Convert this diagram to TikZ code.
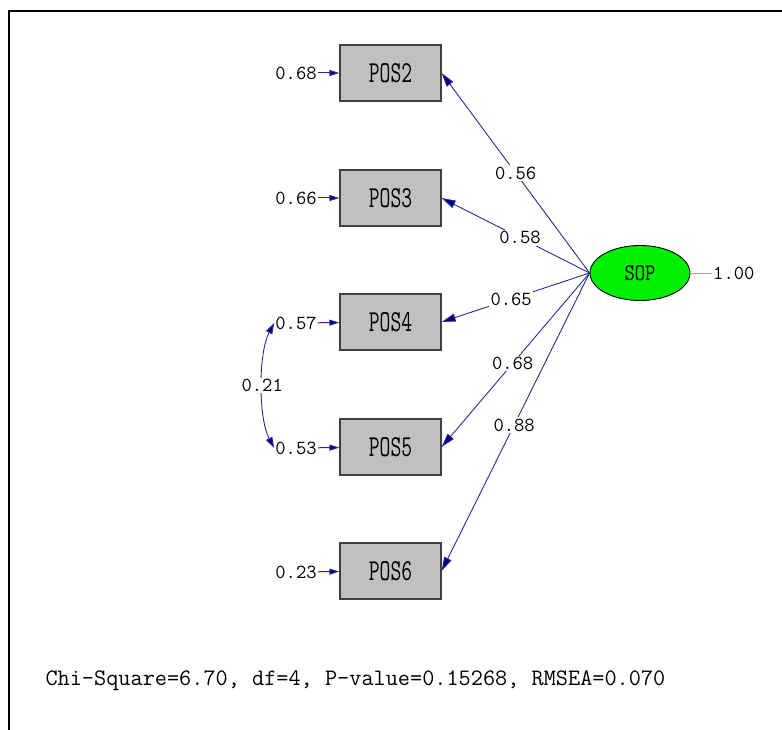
\documentclass[tikz,border=0pt]{standalone}
\usepackage{fontspec}
\usepackage{tikz}
\usetikzlibrary{arrows.meta,positioning,calc,shapes.geometric}

\newcommand{\tallbox}[2]{\scalebox{1}[#1]{#2}}

\begin{document}
\begin{tikzpicture}[
  x=1pt, y=-1pt,
  font=\ttfamily\fontsize{20}{21}\selectfont,
  obs/.style={draw=black!75, line width=1.3pt, fill=cBox, minimum width=101pt, minimum height=56pt, inner sep=0pt},
  lat/.style={draw=black, line width=0.9pt, fill=cLat, ellipse, minimum width=100pt, minimum height=55pt, inner sep=0pt},
  arr/.style={line width=0.9pt, draw=cLine, -{Triangle[length=14pt,width=8pt,fill=cHead]}},
  earr/.style={draw=cLine, line width=1pt, -{Triangle[length=10pt,width=6pt,fill=cHead]}},
  lab/.style={fill=white, text=black, inner sep=1.5pt},
  err/.style={inner sep=1pt},
]
\definecolor{cBox}{HTML}{C0C0C0}
\definecolor{cLat}{HTML}{00F000}
\definecolor{cLine}{HTML}{2A2A96}
\definecolor{cHead}{HTML}{00007A}

\useasboundingbox[fill=white] (0,0) rectangle (782,730);
\draw[line width=2pt] (782,11) -- (9,11) -- (9,730);

\node[obs] (p2) at (390.5,73) {\fontsize{21}{22}\selectfont\tallbox{1.45}{POS2}};
\node[obs] (p3) at (390.5,198) {\fontsize{21}{22}\selectfont\tallbox{1.45}{POS3}};
\node[obs] (p4) at (390.5,322) {\fontsize{21}{22}\selectfont\tallbox{1.45}{POS4}};
\node[obs] (p5) at (390.5,447) {\fontsize{21}{22}\selectfont\tallbox{1.45}{POS5}};
\node[obs] (p6) at (390.5,571) {\fontsize{21}{22}\selectfont\tallbox{1.45}{POS6}};

\node[lat] (sop) at (640,273) {\fontsize{20}{21}\selectfont\tallbox{1.2}{SOP}};
\node[err, anchor=west] (v) at (712,273) {1.00};
\draw[black!35, line width=0.8pt] (sop.east) -- (v.west);

\node[err] (e2) at (296,73) {0.68};
\node[err] (e3) at (296,198) {0.66};
\node[err] (e4) at (296,323) {0.57};
\node[err] (e5) at (296,448) {0.53};
\node[err] (e6) at (296,572) {0.23};
\draw[earr] (e2) -- (p2); \draw[earr] (e3) -- (p3); \draw[earr] (e4) -- (p4);
\draw[earr] (e5) -- (p5); \draw[earr] (e6) -- (p6);

\draw[arr] (sop.west) -- node[lab, pos=0.5] {0.56} (p2.east);
\draw[arr] (sop.west) -- node[lab, pos=0.47] {0.58} (p3.east);
\draw[arr] (sop.west) -- node[lab, pos=0.53] {0.65} (p4.east);
\draw[arr] (sop.west) -- node[lab, pos=0.52] {0.68} (p5.east);
\draw[arr] (sop.west) -- node[lab, pos=0.51] {0.88} (p6.east);

\draw[draw=cLine, line width=0.9pt, {Triangle[length=11pt,width=7pt,fill=cHead]}-{Triangle[length=11pt,width=7pt,fill=cHead]}] (e4.west) .. controls +(-16,30) and +(-16,-30) .. node[lab] {0.21} (e5.west);

\node[anchor=west, font=\ttfamily\fontsize{23.6}{24}\selectfont] (fit) at (42,681) {Chi-Square=6.70, df=4, P-value=0.15268, RMSEA=0.070};
\end{tikzpicture}
\end{document}
